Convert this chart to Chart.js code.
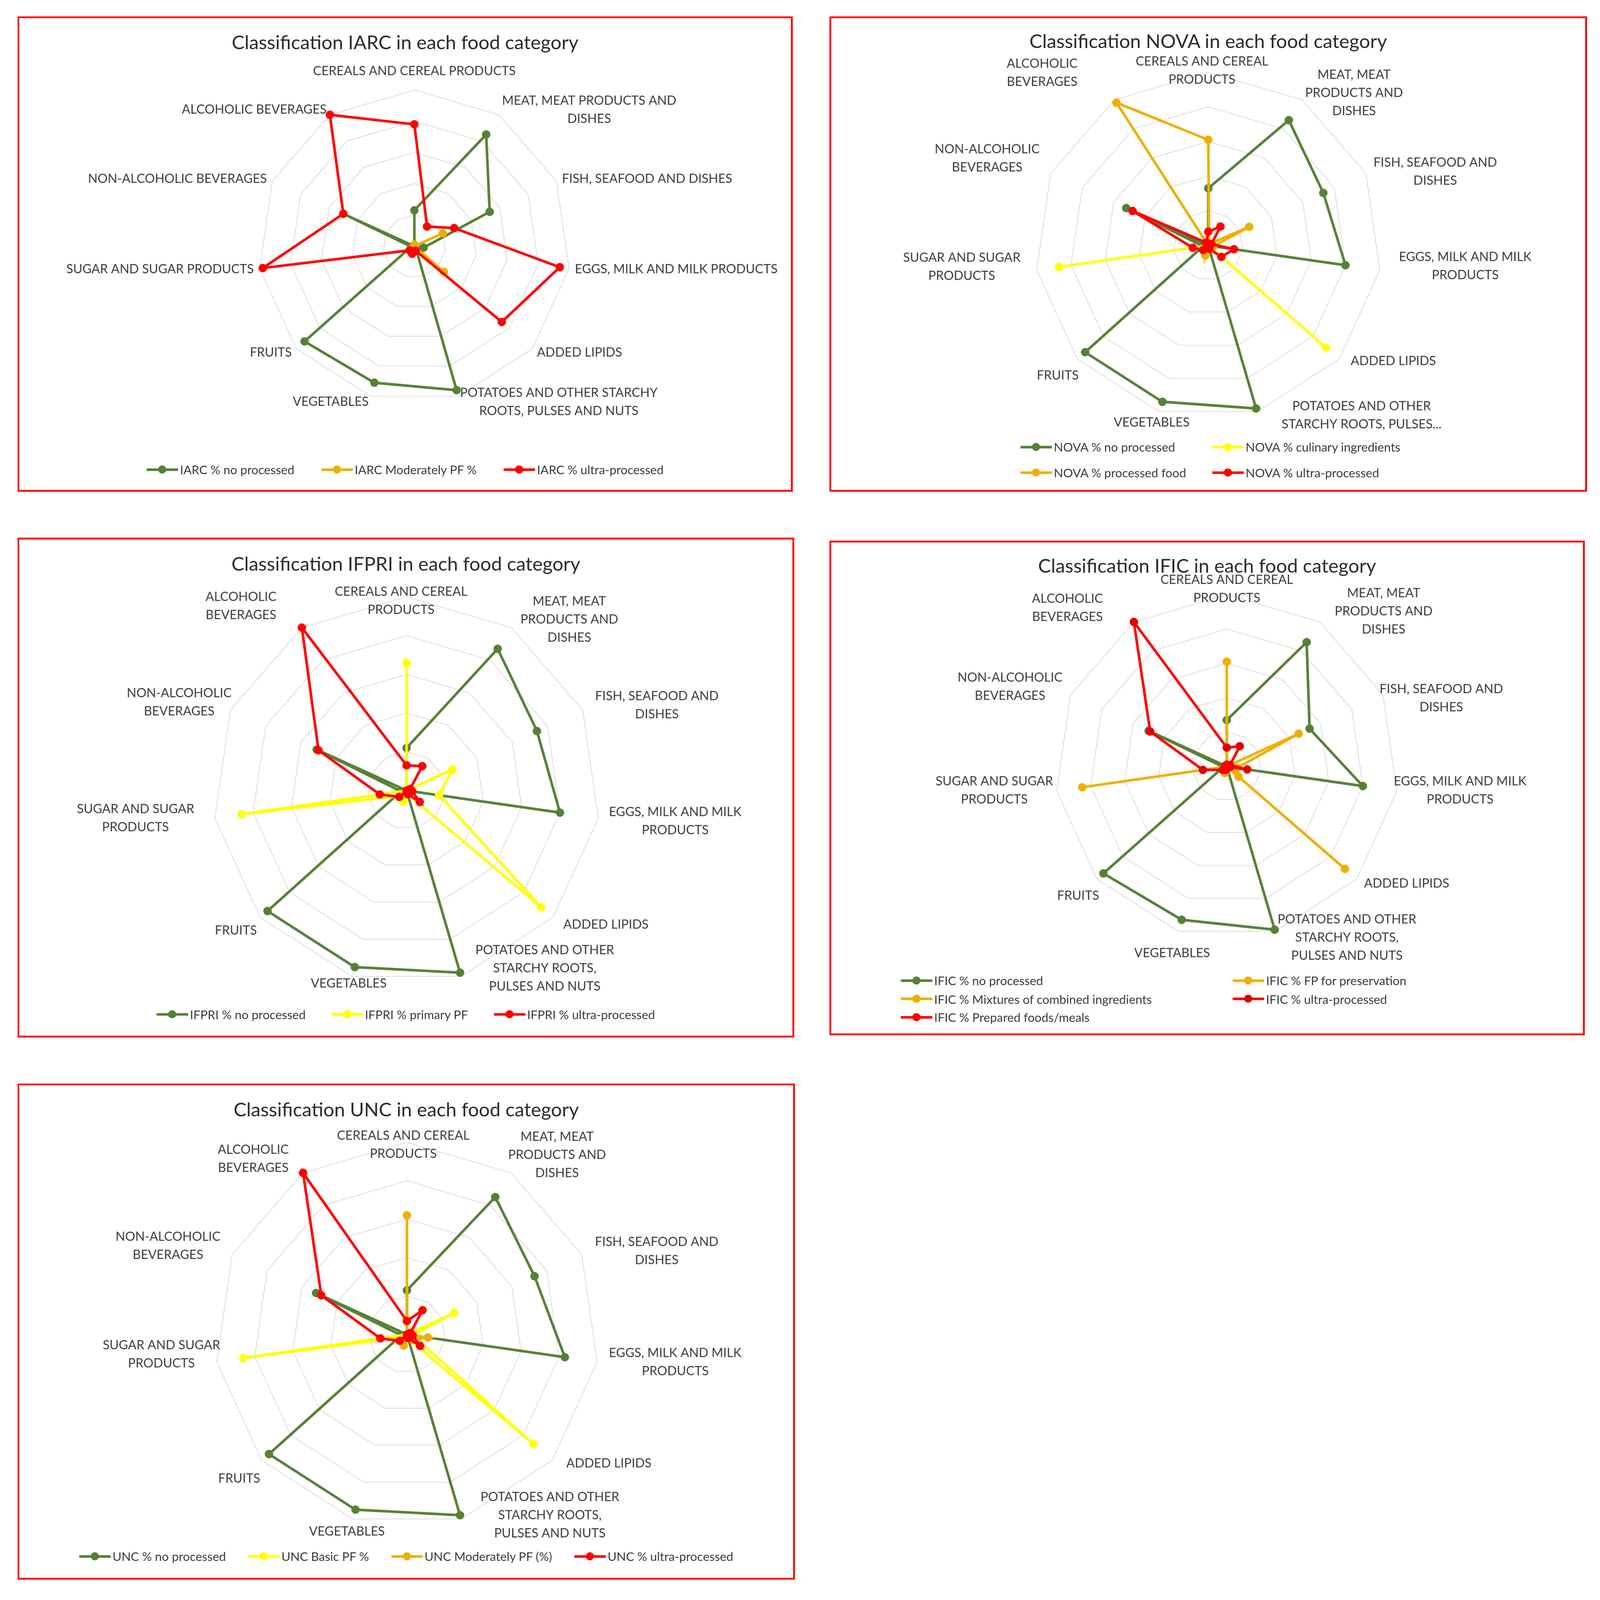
<!DOCTYPE html>
<html lang="en">
<head>
<meta charset="UTF-8">
<title>Classification of food categories</title>
<script src="https://cdn.jsdelivr.net/npm/chart.js@4.4.0/dist/chart.umd.min.js"></script>
<style>
    html, body { margin: 0; background: #fff; overflow: hidden; font-family: Lato, sans-serif; }
    #page { position: absolute; left: 0; top: 0; width: 4321px; height: 4299px; transform-origin: 0 0; }
    .panel { position: absolute; }
    .panel canvas { position: absolute; left: 0; top: 0; }
    .frame { position: absolute; left: 0; top: 0; right: 0; bottom: 0; border: 5px solid #ff0000; box-sizing: border-box; pointer-events: none; }
    .title { position: absolute; left: 0; right: 0; text-align: center; font-size: 52px; line-height: 60px; color: #2b2b2b; }
    .legend { position: absolute; font-size: 33px; color: #3a3a3a; }
    .item { display: flex; align-items: center; white-space: nowrap; }
    .swatch { position: relative; width: 85px; height: 7px; margin-right: 5px; flex: none; background: var(--c); }
    .swatch::after { content: ''; position: absolute; left: 31px; top: -8px; width: 22px; height: 22px; border-radius: 50%; background: var(--d, var(--c)); }
</style>
</head>
<body>
<div id="page"></div>
<script>
    // categories, clockwise from the top
    const categories = ['CEREALS AND CEREAL PRODUCTS', 'MEAT, MEAT PRODUCTS AND DISHES', 'FISH, SEAFOOD AND DISHES',
        'EGGS, MILK AND MILK PRODUCTS', 'ADDED LIPIDS', 'POTATOES AND OTHER STARCHY ROOTS, PULSES AND NUTS',
        'VEGETABLES', 'FRUITS', 'SUGAR AND SUGAR PRODUCTS', 'NON-ALCOHOLIC BEVERAGES', 'ALCOHOLIC BEVERAGES'];

    // how each chart wraps the category names
    const iarcLabels = ['CEREALS AND CEREAL PRODUCTS', ['MEAT, MEAT PRODUCTS AND', 'DISHES'], 'FISH, SEAFOOD AND DISHES',
        'EGGS, MILK AND MILK PRODUCTS', 'ADDED LIPIDS', ['POTATOES AND OTHER STARCHY', 'ROOTS, PULSES AND NUTS'],
        'VEGETABLES', 'FRUITS', 'SUGAR AND SUGAR PRODUCTS', 'NON-ALCOHOLIC BEVERAGES', 'ALCOHOLIC BEVERAGES'];
    const novaLabels = [['CEREALS AND CEREAL', 'PRODUCTS'], ['MEAT, MEAT', 'PRODUCTS AND', 'DISHES'], ['FISH, SEAFOOD AND', 'DISHES'],
        ['EGGS, MILK AND MILK', 'PRODUCTS'], 'ADDED LIPIDS', ['POTATOES AND OTHER', 'STARCHY ROOTS, PULSES...'],
        'VEGETABLES', 'FRUITS', ['SUGAR AND SUGAR', 'PRODUCTS'], ['NON-ALCOHOLIC', 'BEVERAGES'], ['ALCOHOLIC', 'BEVERAGES']];
    const wrappedLabels = [['CEREALS AND CEREAL', 'PRODUCTS'], ['MEAT, MEAT', 'PRODUCTS AND', 'DISHES'], ['FISH, SEAFOOD AND', 'DISHES'],
        ['EGGS, MILK AND MILK', 'PRODUCTS'], 'ADDED LIPIDS', ['POTATOES AND OTHER', 'STARCHY ROOTS,', 'PULSES AND NUTS'],
        'VEGETABLES', 'FRUITS', ['SUGAR AND SUGAR', 'PRODUCTS'], ['NON-ALCOHOLIC', 'BEVERAGES'], ['ALCOHOLIC', 'BEVERAGES']];

    // IARC
    const iarcSeries = ['IARC % no processed', 'IARC Moderately PF %', 'IARC % ultra-processed'];
    const iarcNoProcessed = [23, 85, 53, 6, 1, 96, 91, 93, 2, 50, 0];
    const iarcModerately  = [1, 0, 20, 0, 25, 1, 4, 3, 0, 0, 0];
    const iarcUltra       = [78, 15, 28, 94, 74, 3, 5, 4, 98, 50, 100];

    // NOVA
    const novaSeries = ['NOVA % no processed', 'NOVA % culinary ingredients', 'NOVA % processed food', 'NOVA % ultra-processed'];
    const novaNoProcessed = [33, 86, 73, 80, 0, 98, 94, 94, 3, 52, 0];
    const novaCulinary    = [0, 0, 0, 0, 90, 0, 0, 0, 87, 0, 0];
    const novaProcessed   = [61, 1, 26, 3, 0, 0, 6, 2, 1, 0, 98];
    const novaUltra       = [8, 13, 2, 15, 10, 2, 1, 4, 9, 48, 2];

    // IFPRI
    const ifpriSeries = ['IFPRI % no processed', 'IFPRI % primary PF', 'IFPRI % ultra-processed'];
    const ifpriNoProcessed = [22, 87, 74, 80, 0, 98, 95, 95, 3, 51, 0];
    const ifpriPrimary     = [66, 0, 26, 17, 92, 2, 6, 4, 86, 0, 0];
    const ifpriUltra       = [13, 15, 2, 3, 9, 2, 0, 5, 14, 50, 100];

    // IFIC
    const ificSeries = ['IFIC % no processed', 'IFIC % FP for preservation', 'IFIC % Mixtures of combined ingredients',
        'IFIC % ultra-processed', 'IFIC % Prepared foods/meals'];
    const ificNoProcessed  = [27, 86, 53, 80, 0, 99, 93, 95, 2, 50, 0];
    const ificPreservation = [1, 0, 46, 6, 9, 0, 4, 3, 0, 0, 0];
    const ificMixtures     = [61, 0, 0, 0, 91, 0, 0, 0, 85, 0, 0];
    const ificUltra        = [11, 14, 2, 12, 0, 1, 2, 3, 14, 49, 100];
    const ificPrepared     = [1, 0, 1, 2, 0, 0, 1, 2, 1, 1, 0];

    // UNC
    const uncSeries = ['UNC % no processed', 'UNC Basic PF %', 'UNC Moderately PF (%)', 'UNC % ultra-processed'];
    const uncNoProcessed = [23, 85, 73, 83, 0, 98, 95, 95, 3, 52, 0];
    const uncBasic       = [8, 0, 27, 3, 87, 2, 0, 2, 86, 0, 0];
    const uncModerately  = [62, 0, 0, 11, 4, 0, 6, 0, 0, 0, 0];
    const uncUltra       = [7, 15, 2, 3, 9, 2, 0, 5, 14, 49, 100];

    const GREEN = '#548235', YELLOW = '#FFFF00', ORANGE = '#EDB000', RED = '#FF0000', DARKRED = '#E00000';

    const page = document.getElementById('page');
    // keep the whole 4321 x 4299 sheet inside the window
    const fit = Math.min(window.innerWidth / 4321, window.innerHeight / 4299);
    if (fit < 0.999) page.style.transform = `scale(${fit})`;

    // category names placed like Excel does: outside the outer ring, left or right aligned
    function axisLabels(labels, nudges) {
        return {
            id: 'axisLabels',
            beforeDatasetsDraw(chart) {
                const scale = chart.scales.r;
                const ctx = chart.ctx;
                const lh = 49, gap = 16;
                ctx.save();
                ctx.font = '34px Lato';
                ctx.fillStyle = '#3a3a3a';
                ctx.textAlign = 'center';
                ctx.textBaseline = 'middle';
                labels.forEach((label, i) => {
                    const lines = Array.isArray(label) ? label : [label];
                    const p = scale.getPointPosition(i, scale.drawingArea + gap);
                    const bw = Math.max(...lines.map(t => ctx.measureText(t).width));
                    const bh = lines.length * lh;
                    const dx = p.x - scale.xCenter;
                    let x = p.x, y = p.y;
                    if (i === 0) y = p.y - 10 - bh / 2;
                    else if (dx > 5) x = p.x + bw / 2;
                    else if (dx < -5) x = p.x - bw / 2;
                    const n = nudges ? nudges[i] : [0, 0];
                    x += n[0];
                    y += n[1];
                    lines.forEach((t, k) => ctx.fillText(t, x, y - bh / 2 + lh * (k + 0.5)));
                });
                ctx.restore();
            }
        };
    }

    function makePanel(cfg) {
        const panel = document.createElement('div');
        panel.className = 'panel';
        panel.style.left = cfg.left + 'px';
        panel.style.top = cfg.top + 'px';
        panel.style.width = cfg.w + 'px';
        panel.style.height = cfg.h + 'px';
        page.appendChild(panel);

        const canvas = document.createElement('canvas');
        canvas.width = cfg.w;
        canvas.height = cfg.h;
        panel.appendChild(canvas);

        const title = document.createElement('div');
        title.className = 'title';
        title.style.top = (cfg.titleY - 30) + 'px';
        title.textContent = cfg.title;
        panel.appendChild(title);

        // legend: line sample with a dot, like Excel
        const legend = document.createElement('div');
        legend.className = 'legend';
        const lg = cfg.legend;
        if (lg.cols) {
            legend.style.left = lg.left + 'px';
            legend.style.top = (lg.y - lg.rowH / 2) + 'px';
            legend.style.display = 'grid';
            legend.style.gridTemplateColumns = `repeat(${lg.cols}, ${lg.colW}px)`;
            legend.style.gridAutoRows = lg.rowH + 'px';
        } else {
            legend.style.left = '0px';
            legend.style.right = '0px';
            legend.style.top = (lg.y - 25) + 'px';
            legend.style.height = '50px';
            legend.style.display = 'flex';
            legend.style.justifyContent = 'center';
            legend.style.columnGap = lg.gap + 'px';
        }
        cfg.series.forEach((name, i) => {
            const item = document.createElement('div');
            item.className = 'item';
            const sw = document.createElement('span');
            sw.className = 'swatch';
            sw.style.setProperty('--c', cfg.colors[i]);
            if (cfg.points && cfg.points[i]) sw.style.setProperty('--d', cfg.points[i]);
            item.appendChild(sw);
            item.appendChild(document.createTextNode(name));
            legend.appendChild(item);
        });
        panel.appendChild(legend);

        const frame = document.createElement('div');
        frame.className = 'frame';
        panel.appendChild(frame);

        new Chart(canvas.getContext('2d'), {
            type: 'radar',
            data: {
                labels: cfg.labels,
                datasets: cfg.values.map((data, i) => ({
                    label: cfg.series[i],
                    data: data,
                    borderColor: cfg.colors[i],
                    backgroundColor: cfg.colors[i],
                    pointBackgroundColor: (cfg.points && cfg.points[i]) || cfg.colors[i],
                    pointBorderColor: cfg.colors[i],
                    pointBorderWidth: 1,
                    pointRadius: 11,
                    borderWidth: 7,
                    fill: false,
                    tension: 0,
                    clip: false,
                    order: -i
                }))
            },
            options: {
                responsive: false,
                animation: false,
                devicePixelRatio: 1,
                layout: {
                    padding: {
                        left: cfg.cx - cfg.r,
                        top: cfg.cy - cfg.r,
                        right: cfg.w - cfg.cx - cfg.r,
                        bottom: cfg.h - cfg.cy - cfg.r
                    }
                },
                plugins: { legend: { display: false }, tooltip: { enabled: false } },
                scales: {
                    r: {
                        min: 0,
                        max: 100,
                        ticks: { display: false, stepSize: 20 },
                        grid: { color: '#D9D9D9', lineWidth: 2 },
                        angleLines: { display: false },
                        pointLabels: { display: false }
                    }
                }
            },
            plugins: [axisLabels(cfg.labels, cfg.nudges)]
        });
    }

    makePanel({
        left: 47, top: 44, w: 2094, h: 1284, cx: 1072, cy: 621, r: 422, titleY: 69,
        title: 'Classification IARC in each food category',
        labels: iarcLabels, series: iarcSeries,
        values: [iarcNoProcessed, iarcModerately, iarcUltra],
        colors: [GREEN, ORANGE, RED],
        legend: { y: 1224, gap: 73 }
    });

    makePanel({
        left: 2240, top: 44, w: 2046, h: 1284, cx: 1023, cy: 619, r: 468, titleY: 66,
        title: 'Classification NOVA in each food category',
        labels: novaLabels, series: novaSeries,
        values: [novaNoProcessed, novaCulinary, novaProcessed, novaUltra],
        colors: [GREEN, YELLOW, ORANGE, RED],
        nudges: [[-17, 71], [0, -5], [6, 2], [36, -13], [19, -5], [62, -6], [86, 14], [16, 34], [-28, -11], [-15, -34], [-91, -59]],
        legend: { cols: 2, left: 516, colW: 518, y: 1163, rowH: 69 }
    });

    makePanel({
        left: 47, top: 1452, w: 2098, h: 1350, cx: 1051, cy: 683, r: 523, titleY: 69,
        title: 'Classification IFPRI in each food category',
        labels: wrappedLabels, series: ifpriSeries,
        values: [ifpriNoProcessed, ifpriPrimary, ifpriUltra],
        colors: [GREEN, YELLOW, RED],
        nudges: [[-15, 86], [16, -9], [19, -7], [13, 6], [16, 9], [34, -37], [98, 4], [3, 25], [-40, -2], [18, -15], [-60, -45]],
        legend: { y: 1287, gap: 70 }
    });

    makePanel({
        left: 2240, top: 1460, w: 2040, h: 1336, cx: 1073, cy: 610, r: 464, titleY: 67,
        title: 'Classification IFIC in each food category',
        labels: wrappedLabels, series: ificSeries,
        values: [ificNoProcessed, ificPreservation, ificMixtures, ificUltra, ificPrepared],
        colors: [GREEN, ORANGE, ORANGE, RED, RED],
        points: [null, null, null, DARKRED, null],
        nudges: [[0, 60], [32, -15], [-24, 15], [-24, -4], [8, 2], [2, 1], [90, 43], [18, 35], [6, -4], [-7, -16], [-75, -25]],
        legend: { cols: 2, left: 193, colW: 896, y: 1188, rowH: 49.5 }
    });

    makePanel({
        left: 47, top: 2926, w: 2100, h: 1340, cx: 1052, cy: 678, r: 519, titleY: 69,
        title: 'Classification UNC in each food category',
        labels: wrappedLabels, series: uncSeries,
        values: [uncNoProcessed, uncBasic, uncModerately, uncUltra],
        colors: [GREEN, YELLOW, ORANGE, RED],
        nudges: [[-10, 82], [-16, -35], [21, -3], [16, -2], [26, -2], [48, -25], [91, 19], [8, 39], [25, -23], [-17, -17], [-30, -24]],
        legend: { y: 1277, gap: 60 }
    });
</script>
</body>
</html>
